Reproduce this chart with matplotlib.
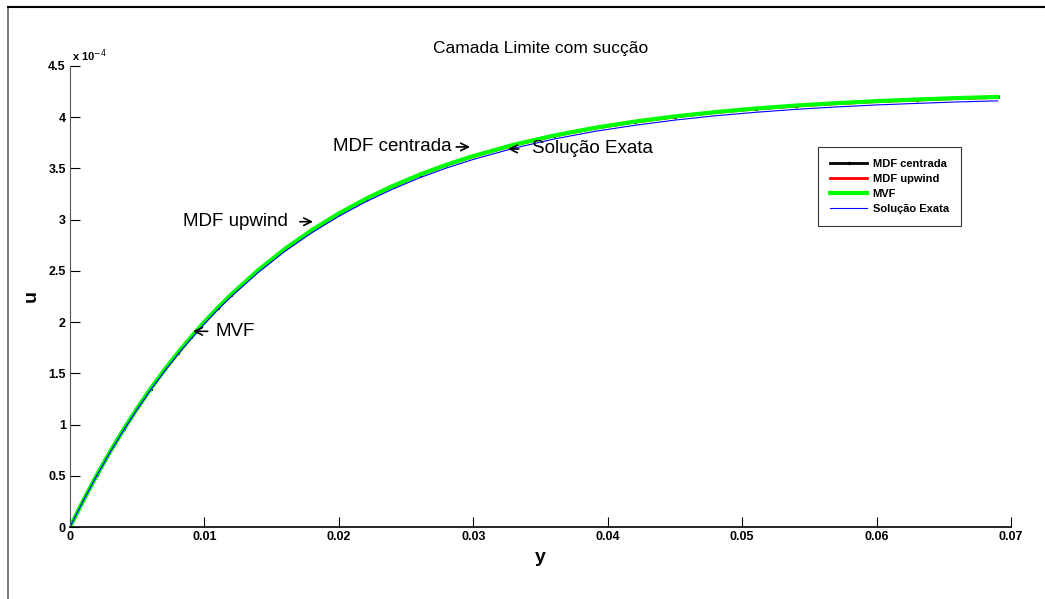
import numpy as np
import matplotlib.pyplot as plt
from matplotlib.lines import Line2D
from matplotlib.ticker import FuncFormatter

plt.rcParams['font.family'] = ['Liberation Sans', 'DejaVu Sans']

# dados (u em unidades de 1e-4)
y = [0.000, 0.001, 0.002, 0.003, 0.004, 0.005, 0.006, 0.007, 0.008, 0.009,
     0.010, 0.011, 0.012, 0.014, 0.016, 0.018, 0.020, 0.022, 0.024, 0.026,
     0.028, 0.030, 0.033, 0.036, 0.039, 0.042, 0.045, 0.048, 0.051, 0.054,
     0.057, 0.060, 0.063, 0.066, 0.069]
u_mvf = [0.000, 0.262, 0.508, 0.740, 0.956, 1.159, 1.351, 1.529, 1.697, 1.853,
         2.002, 2.141, 2.270, 2.507, 2.716, 2.899, 3.061, 3.203, 3.328, 3.439,
         3.536, 3.621, 3.731, 3.821, 3.896, 3.957, 4.008, 4.050, 4.085, 4.114,
         4.137, 4.157, 4.173, 4.187, 4.198]
u_centrada = [0.000, 0.262, 0.507, 0.739, 0.955, 1.158, 1.350, 1.528, 1.696, 1.852,
              2.001, 2.140, 2.269, 2.506, 2.715, 2.898, 3.060, 3.202, 3.327, 3.438,
              3.535, 3.620, 3.730, 3.820, 3.895, 3.956, 4.007, 4.049, 4.084, 4.113,
              4.136, 4.156, 4.172, 4.186, 4.197]
u_upwind = [0.000, 0.261, 0.506, 0.737, 0.953, 1.155, 1.347, 1.525, 1.692, 1.848,
            1.997, 2.136, 2.265, 2.502, 2.711, 2.894, 3.056, 3.198, 3.323, 3.434,
            3.531, 3.616, 3.726, 3.816, 3.891, 3.952, 4.003, 4.045, 4.080, 4.109,
            4.132, 4.152, 4.168, 4.182, 4.193]
u_exata = [0.000, 0.260, 0.503, 0.733, 0.947, 1.149, 1.339, 1.515, 1.682, 1.836,
           1.984, 2.122, 2.250, 2.484, 2.692, 2.873, 3.033, 3.174, 3.298, 3.408,
           3.504, 3.588, 3.697, 3.787, 3.861, 3.921, 3.972, 4.014, 4.048, 4.077,
           4.100, 4.120, 4.135, 4.149, 4.160]
escala = 1e-4

y = np.array(y)
u_centrada = np.array(u_centrada) * escala
u_upwind = np.array(u_upwind) * escala
u_mvf = np.array(u_mvf) * escala
u_exata = np.array(u_exata) * escala

fig = plt.figure(figsize=(10.45, 5.99), dpi=100)
ax = fig.add_axes([70 / 1045, 1 - 527 / 599, 941 / 1045, 461 / 599])

ax.plot(y, u_centrada, color='black', lw=2, marker='.', ms=3, label='MDF centrada')
ax.plot(y, u_upwind, color='red', lw=2, label='MDF upwind')
ax.plot(y, u_mvf, color='#00ff00', lw=3, label='MVF')
ax.plot(y, u_exata, color='blue', lw=0.8, label='Solução Exata')

ax.set_xlim(0, 0.07)
ax.set_ylim(0, 4.5e-4)
ax.set_xticks(np.arange(0, 0.0701, 0.01))
ax.set_yticks(np.arange(0, 4.51e-4, 0.5e-4))
ax.xaxis.set_major_formatter(FuncFormatter(lambda v, p: '%g' % round(v, 3)))
ax.yaxis.set_major_formatter(FuncFormatter(lambda v, p: '%g' % round(v / escala, 2)))
ax.tick_params(direction='in', length=7, width=0.8, labelsize=9, pad=3)
for lab in ax.get_xticklabels() + ax.get_yticklabels():
    lab.set_fontweight('bold')

ax.spines['top'].set_visible(False)
ax.spines['right'].set_visible(False)
ax.spines['bottom'].set_linewidth(1.2)
ax.spines['left'].set_color('#555555')

ax.text(0.002, 1.005, r'x 10$^{-4}$', transform=ax.transAxes, fontsize=8,
        fontweight='bold', va='bottom', ha='left')

ax.set_title('Camada Limite com sucção', fontsize=12.5, pad=9)
ax.set_xlabel('y', fontsize=14, fontweight='bold', labelpad=4)
ax.set_ylabel('u', fontsize=14, fontweight='bold', labelpad=6)

# anotacoes com setas (texto, ponta da seta, posicao do texto, folga em pt)
seta = dict(arrowstyle='->', lw=1.2, color='black', shrinkB=0)
ax.annotate('MDF centrada', xy=(0.02976, 3.71e-4), xytext=(0.02842, 3.71e-4),
            ha='right', va='center', fontsize=13.5,
            arrowprops=dict(seta, relpos=(1, 0.5), shrinkA=1))
ax.annotate('Solução Exata', xy=(0.03258, 3.69e-4), xytext=(0.03437, 3.69e-4),
            ha='left', va='center', fontsize=13.5,
            arrowprops=dict(seta, relpos=(0, 0.5), shrinkA=7.5))
ax.annotate('MDF upwind', xy=(0.01808, 2.98e-4), xytext=(0.01622, 2.98e-4),
            ha='right', va='center', fontsize=13.5,
            arrowprops=dict(seta, relpos=(1, 0.5), shrinkA=6.5))
ax.annotate('MVF', xy=(0.00915, 1.91e-4), xytext=(0.01086, 1.91e-4),
            ha='left', va='center', fontsize=13.5,
            arrowprops=dict(seta, relpos=(0, 0.5), shrinkA=4))

leg = ax.legend(loc='upper left', bbox_to_anchor=(0.795, 0.825), fontsize=8,
                frameon=True, fancybox=False, handlelength=3.3, borderpad=1.1,
                labelspacing=0.45, handletextpad=0.5, borderaxespad=0)
leg.get_frame().set_edgecolor('black')
leg.get_frame().set_linewidth(0.8)
for t in leg.get_texts():
    t.set_fontweight('bold')

# moldura da figura
fig.add_artist(Line2D([8 / 1045, 8 / 1045], [0, 1 - 7 / 599], color='#666666', lw=1.2))
fig.add_artist(Line2D([8 / 1045, 1], [1 - 7 / 599, 1 - 7 / 599], color='black', lw=1.5))

fig.savefig('out.png', dpi=100)
